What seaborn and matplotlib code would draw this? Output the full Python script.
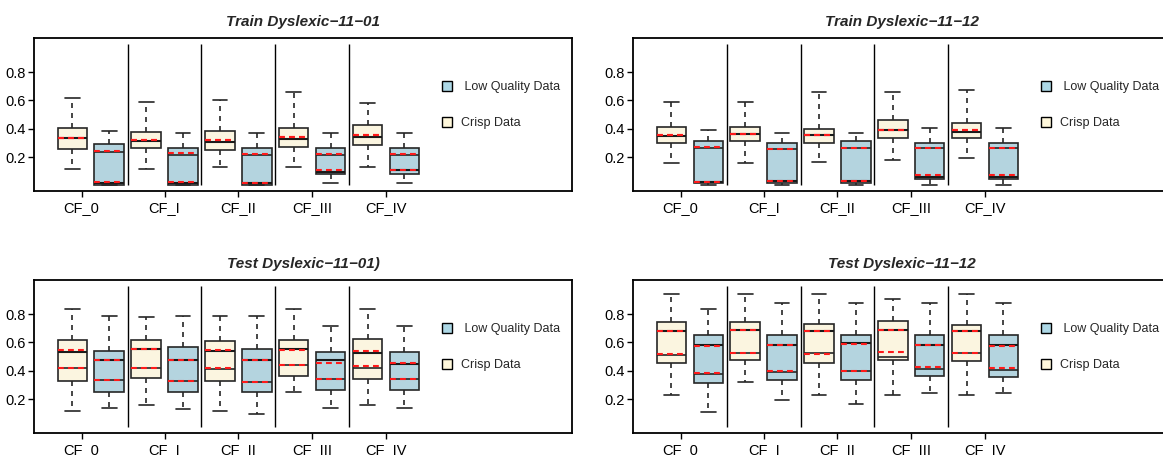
import numpy as np
import pandas as pd
import seaborn as sns
import matplotlib.pyplot as plt
from matplotlib.patches import Patch

# each row: (whisker low, q1, median a, q3, whisker high, median b, mean a, mean b)
categories = ["CF_0", "CF_I", "CF_II", "CF_III", "CF_IV"]

train01_crisp = [
    (0.118, 0.259, 0.334, 0.405, 0.616, 0.334, 0.335, 0.335),
    (0.118, 0.261, 0.311, 0.376, 0.586, 0.311, 0.322, 0.322),
    (0.127, 0.247, 0.306, 0.381, 0.605, 0.306, 0.318, 0.318),
    (0.127, 0.271, 0.327, 0.405, 0.659, 0.327, 0.341, 0.341),
    (0.127, 0.282, 0.341, 0.424, 0.581, 0.341, 0.355, 0.355),
]
train01_lq = [
    (0.000, 0.000, 0.233, 0.294, 0.386, 0.019, 0.240, 0.021),
    (0.000, 0.000, 0.216, 0.264, 0.369, 0.019, 0.226, 0.023),
    (0.000, 0.000, 0.216, 0.264, 0.369, 0.016, 0.224, 0.019),
    (0.019, 0.078, 0.216, 0.264, 0.369, 0.092, 0.224, 0.108),
    (0.019, 0.078, 0.216, 0.264, 0.369, 0.108, 0.224, 0.108),
]
train12_crisp = [
    (0.155, 0.296, 0.348, 0.411, 0.589, 0.348, 0.352, 0.352),
    (0.155, 0.312, 0.359, 0.413, 0.587, 0.359, 0.362, 0.362),
    (0.165, 0.301, 0.352, 0.401, 0.657, 0.352, 0.354, 0.354),
    (0.179, 0.331, 0.390, 0.460, 0.657, 0.390, 0.390, 0.390),
    (0.195, 0.331, 0.378, 0.441, 0.671, 0.378, 0.390, 0.390),
]
train12_lq = [
    (0.003, 0.015, 0.266, 0.312, 0.390, 0.024, 0.268, 0.027),
    (0.003, 0.015, 0.259, 0.296, 0.371, 0.031, 0.259, 0.033),
    (0.003, 0.019, 0.266, 0.312, 0.371, 0.031, 0.266, 0.033),
    (0.003, 0.048, 0.261, 0.296, 0.406, 0.062, 0.261, 0.073),
    (0.003, 0.048, 0.261, 0.296, 0.406, 0.062, 0.261, 0.073),
]
test01_crisp = [
    (0.117, 0.330, 0.422, 0.618, 0.838, 0.535, 0.422, 0.547),
    (0.157, 0.346, 0.422, 0.613, 0.776, 0.554, 0.422, 0.554),
    (0.117, 0.328, 0.410, 0.611, 0.788, 0.542, 0.417, 0.547),
    (0.252, 0.363, 0.441, 0.613, 0.838, 0.554, 0.441, 0.547),
    (0.157, 0.342, 0.422, 0.623, 0.838, 0.528, 0.434, 0.542),
]
test01_lq = [
    (0.134, 0.250, 0.332, 0.542, 0.788, 0.476, 0.332, 0.476),
    (0.127, 0.247, 0.327, 0.566, 0.788, 0.476, 0.327, 0.476),
    (0.091, 0.250, 0.320, 0.552, 0.788, 0.472, 0.320, 0.472),
    (0.134, 0.264, 0.344, 0.531, 0.713, 0.472, 0.344, 0.457),
    (0.134, 0.264, 0.344, 0.531, 0.713, 0.448, 0.344, 0.453),
]
test12_crisp = [
    (0.228, 0.453, 0.512, 0.741, 0.944, 0.682, 0.517, 0.677),
    (0.318, 0.472, 0.524, 0.741, 0.944, 0.684, 0.524, 0.684),
    (0.228, 0.453, 0.528, 0.731, 0.944, 0.682, 0.519, 0.677),
    (0.228, 0.472, 0.500, 0.753, 0.906, 0.684, 0.531, 0.684),
    (0.228, 0.469, 0.528, 0.724, 0.944, 0.682, 0.524, 0.677),
]
test12_lq = [
    (0.110, 0.316, 0.375, 0.649, 0.838, 0.578, 0.387, 0.571),
    (0.190, 0.335, 0.389, 0.649, 0.878, 0.583, 0.398, 0.583),
    (0.167, 0.335, 0.401, 0.649, 0.878, 0.594, 0.401, 0.587),
    (0.240, 0.365, 0.413, 0.649, 0.878, 0.578, 0.424, 0.578),
    (0.240, 0.354, 0.405, 0.649, 0.878, 0.583, 0.417, 0.571),
]

tick_pos = [1.25, 3.5, 5.5, 7.5, 9.5]
y_ticks = [0.2, 0.4, 0.6, 0.8]
palette = {"Crisp Data": "#FFF8DC", "Low Quality Data": "#ADD8E6"}

sns.set_style("white")
plt.rcParams["font.family"] = ["Liberation Sans", "DejaVu Sans"]


def make_frame(crisp, lq):
    rows = []
    for i, (c, l) in enumerate(zip(crisp, lq)):
        for v in c[:5]:
            rows.append((2 * i + 1, v, "Crisp Data"))
        for v in l[:5]:
            rows.append((2 * i + 2, v, "Low Quality Data"))
    return pd.DataFrame(rows, columns=["pos", "value", "series"])


def draw_panel(ax, crisp, lq, title):
    df = make_frame(crisp, lq)
    sns.boxplot(data=df, x="pos", y="value", hue="series", native_scale=True,
                dodge=False, palette=palette, width=0.8, whis=(0, 100),
                showfliers=False, linecolor="#262626", linewidth=1.2,
                whiskerprops={"linestyle": (0, (3, 3))},
                legend=False, ax=ax)

    # second median line and the two mean lines
    for k, series in enumerate([crisp, lq]):
        pos = np.arange(len(series)) * 2 + 1 + k
        arr = np.array(series)
        ax.hlines(arr[:, 5], pos - 0.4, pos + 0.4, color="#1a1a1a", lw=1.5, zorder=5)
        for col in (6, 7):
            ax.hlines(arr[:, col], pos - 0.4, pos + 0.4, color="#FF1A1A", lw=1.5,
                      linestyles=[(0, (2.8, 2))], zorder=6)

    ax.vlines([2.5, 4.5, 6.5, 8.5], 0, 1, color="black", lw=1)

    ax.set_xlim(-0.04, 14.54)
    ax.set_ylim(-0.04, 1.04)
    ax.set_xticks(tick_pos)
    ax.set_xticklabels(categories)
    ax.set_yticks(y_ticks)
    ax.set_yticklabels([f"{v:.1f}" for v in y_ticks])
    ax.set_xlabel("")
    ax.set_ylabel("")
    ax.tick_params(axis="both", direction="out", length=4, width=1,
                   colors="black", labelsize=10.5, left=True, bottom=True)
    ax.tick_params(axis="x", pad=3.5)
    ax.tick_params(axis="y", pad=2)
    for sp in ax.spines.values():
        sp.set_color("black")
        sp.set_linewidth(1.3)
    ax.set_title(title, fontsize=11, fontweight="bold", fontstyle="italic", pad=9)

    handles = [Patch(facecolor=palette["Low Quality Data"], edgecolor="black", lw=1),
               Patch(facecolor=palette["Crisp Data"], edgecolor="black", lw=1)]
    ax.legend(handles, [" Low Quality Data", "Crisp Data"], loc="center left",
              bbox_to_anchor=(0.758, 0.562), frameon=False, fontsize=9,
              borderpad=0, borderaxespad=0, handlelength=0.85, handleheight=0.85,
              handletextpad=0.7, labelspacing=1.9)


fig = plt.figure(figsize=(11.63, 4.57), dpi=100)
w, h = 0.4626, 0.3348
ax1 = fig.add_axes([0.0292, 0.582, w, h])
ax2 = fig.add_axes([0.5443, 0.582, w, h])
ax3 = fig.add_axes([0.0292, 0.0525, w, h])
ax4 = fig.add_axes([0.5443, 0.0525, w, h])

draw_panel(ax1, train01_crisp, train01_lq, "Train Dyslexic\u221211\u221201")
draw_panel(ax2, train12_crisp, train12_lq, "Train Dyslexic\u221211\u221212")
draw_panel(ax3, test01_crisp, test01_lq, "Test Dyslexic\u221211\u221201)")
draw_panel(ax4, test12_crisp, test12_lq, "Test Dyslexic\u221211\u221212")

plt.savefig("out.png", dpi=100)
